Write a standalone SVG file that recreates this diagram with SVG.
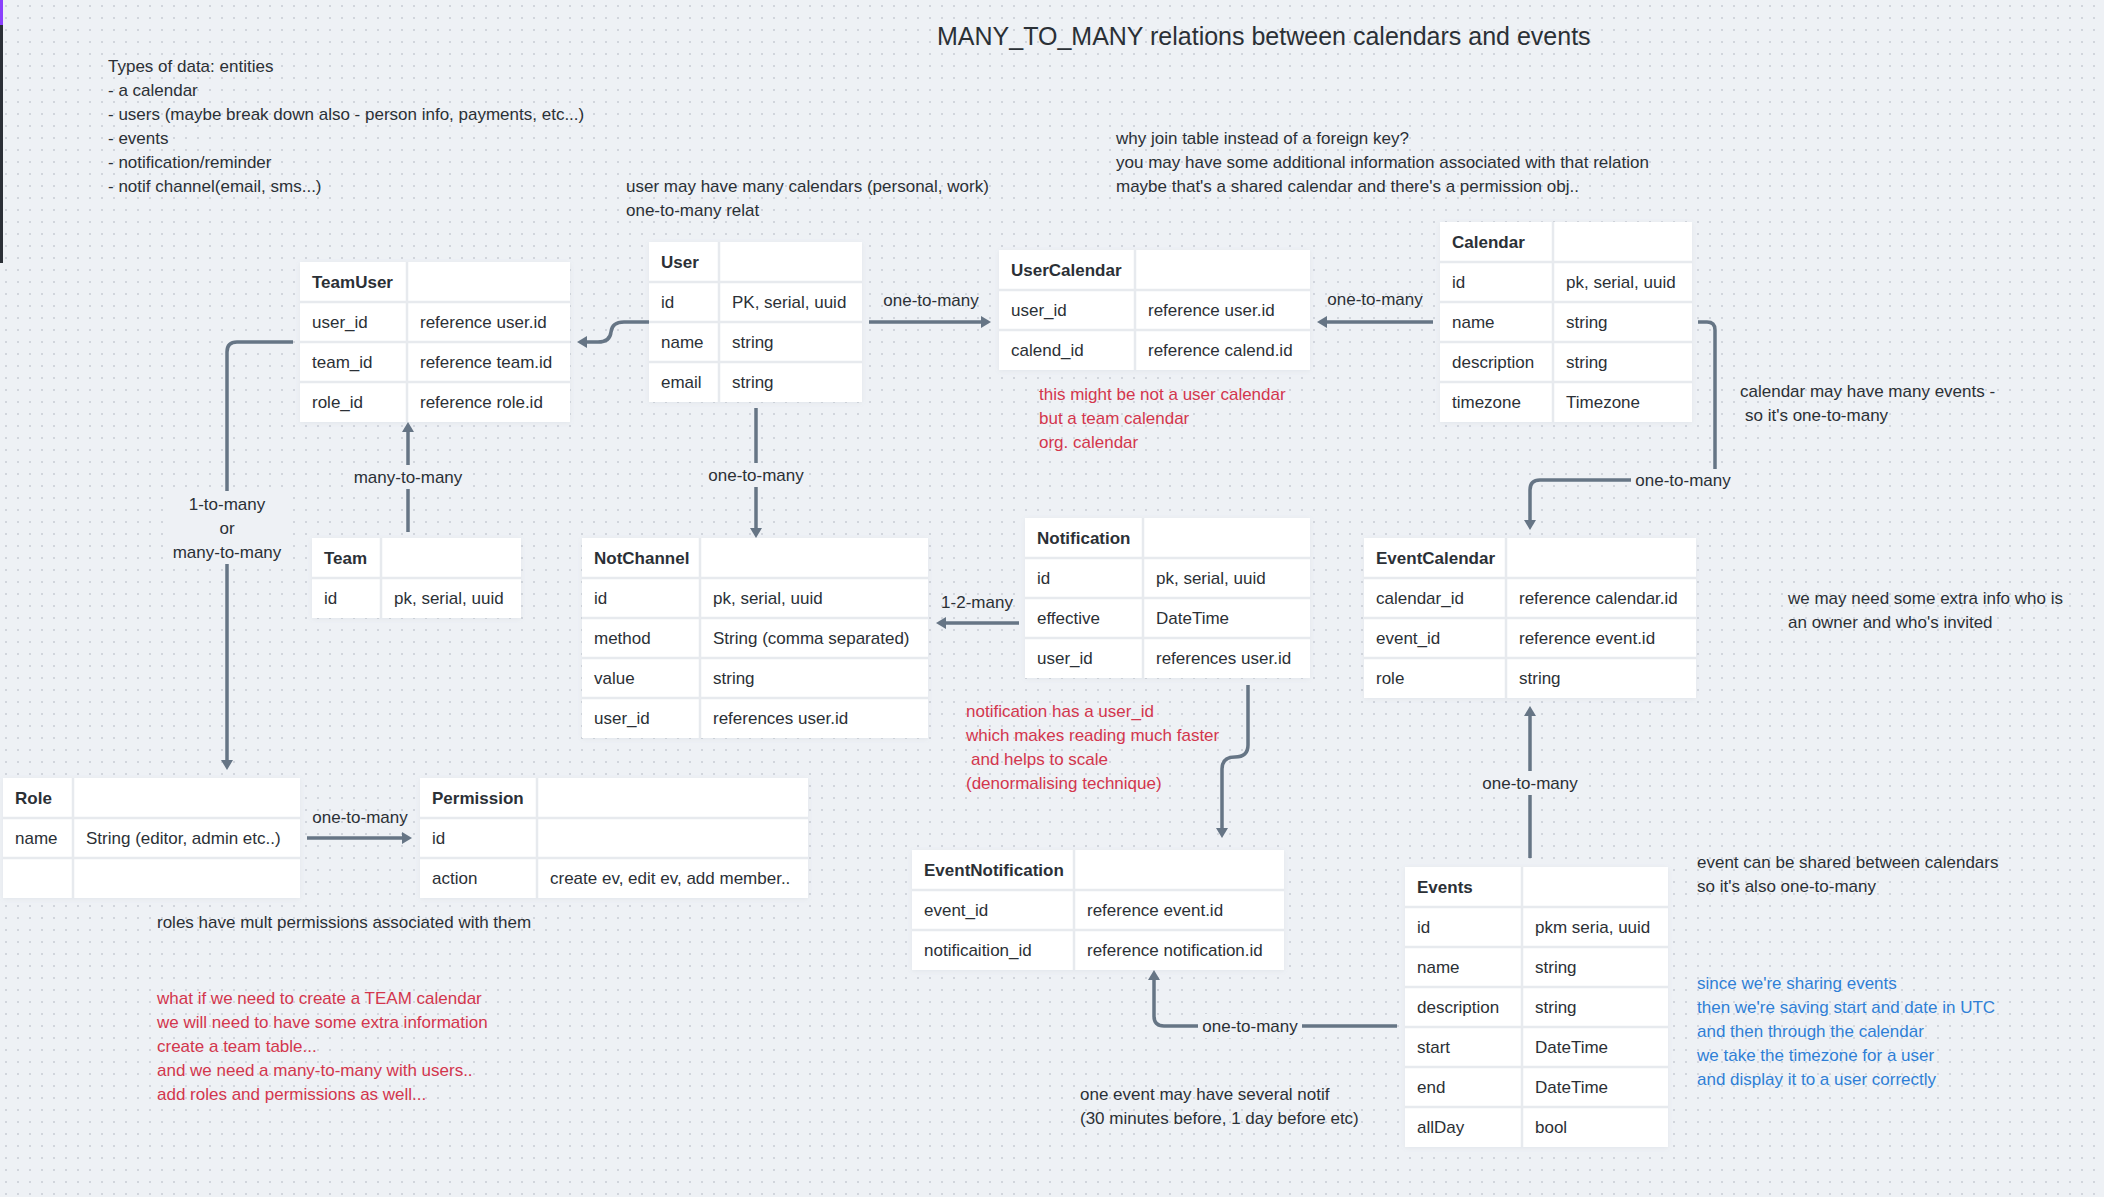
<svg xmlns="http://www.w3.org/2000/svg" width="2104" height="1197" viewBox="0 0 2104 1197">
<style>
text{font-family:"Liberation Sans",Arial,sans-serif;font-size:17px;fill:#2b3036}
.h{font-weight:bold}
.red{fill:#d3364d}
.blue{fill:#2f7fd6}
.title{font-size:25px}
.lbl{text-anchor:middle}
.tb{fill:#fff;filter:url(#sh)}
.sep{stroke:#e7eaee;stroke-width:2.5;fill:none}
.con{fill:none;stroke:#667585;stroke-width:3.5;marker-end:url(#ah)}
.bg{fill:#eef1f5}
</style>
<defs>
<pattern id="dots" width="12" height="12" patternUnits="userSpaceOnUse">
<circle cx="6" cy="6" r="1" fill="#c7ccd4"/>
</pattern>
<marker id="ah" viewBox="0 0 10 12" refX="2" refY="6" markerWidth="10" markerHeight="12" markerUnits="userSpaceOnUse" orient="auto">
<path d="M0,0 L10,6 L0,12 z" fill="#667585"/>
</marker>
<filter id="sh" x="-5%" y="-5%" width="110%" height="115%">
<feDropShadow dx="0" dy="1" stdDeviation="2" flood-color="#8090a0" flood-opacity="0.12"/>
</filter>
</defs>
<rect width="2104" height="1197" fill="#eef1f5"/>
<rect width="2104" height="1197" fill="url(#dots)"/>
<rect x="0" y="0" width="3" height="25" fill="#8a3ffc"/>
<rect x="0" y="25" width="3" height="238" fill="#2b2f36"/>

<text class="title" x="937" y="45">MANY_TO_MANY relations between calendars and events</text>

<g id="notes">
<text x="108" y="72">Types of data: entities</text>
<text x="108" y="96">- a calendar</text>
<text x="108" y="120">- users (maybe break down also - person info, payments, etc...)</text>
<text x="108" y="144">- events</text>
<text x="108" y="168">- notification/reminder</text>
<text x="108" y="192">- notif channel(email, sms...)</text>
<text x="626" y="192">user may have many calendars (personal, work)</text>
<text x="626" y="216">one-to-many relat</text>
<text x="1116" y="144">why join table instead of a foreign key?</text>
<text x="1116" y="168">you may have some additional information associated with that relation</text>
<text x="1116" y="192">maybe that's a shared calendar and there's a permission obj..</text>
<text class="red" x="1039" y="400">this might be not a user calendar</text>
<text class="red" x="1039" y="424">but a team calendar</text>
<text class="red" x="1039" y="448">org. calendar</text>
<text x="1740" y="397">calendar may have many events -</text>
<text x="1745" y="421">so it's one-to-many</text>
<text x="1788" y="604">we may need some extra info who is</text>
<text x="1788" y="628">an owner and who's invited</text>
<text class="red" x="966" y="717">notification has a user_id</text>
<text class="red" x="966" y="741">which makes reading much faster</text>
<text class="red" x="971" y="765">and helps to scale</text>
<text class="red" x="966" y="789">(denormalising technique)</text>
<text x="157" y="928">roles have mult permissions associated with them</text>
<text class="red" x="157" y="1004">what if we need to create a TEAM calendar</text>
<text class="red" x="157" y="1028">we will need to have some extra information</text>
<text class="red" x="157" y="1052">create a team table...</text>
<text class="red" x="157" y="1076">and we need a many-to-many with users..</text>
<text class="red" x="157" y="1100">add roles and permissions as well...</text>
<text x="1080" y="1100">one event may have several notif</text>
<text x="1080" y="1124">(30 minutes before, 1 day before etc)</text>
<text x="1697" y="868">event can be shared between calendars</text>
<text x="1697" y="892">so it's also one-to-many</text>
<text class="blue" x="1697" y="989">since we're sharing events</text>
<text class="blue" x="1697" y="1013">then we're saving start and date in UTC</text>
<text class="blue" x="1697" y="1037">and then through the calendar</text>
<text class="blue" x="1697" y="1061">we take the timezone for a user</text>
<text class="blue" x="1697" y="1085">and display it to a user correctly</text>
</g>

<g id="connectors">
<path class="con" d="M650 322 H624 Q612 322 611 332 Q610 342 598 342 H585"/>
<path class="con" d="M869 322 H983"/>
<text class="lbl" x="931" y="306">one-to-many</text>
<path class="con" d="M1433 322 H1325"/>
<text class="lbl" x="1375" y="305">one-to-many</text>
<path class="con" d="M1698 322 H1707 Q1715 322 1715 330 V472 Q1715 480 1707 480 H1540 Q1530 480 1530 490 V522"/>
<rect class="bg" x="1631" y="469" width="104" height="22"/>
<text class="lbl" x="1683" y="486">one-to-many</text>
<path class="con" d="M756 408 V530"/>
<rect class="bg" x="706" y="463" width="100" height="24"/>
<text class="lbl" x="756" y="481">one-to-many</text>
<path class="con" d="M408 532 V430"/>
<rect class="bg" x="350" y="465" width="116" height="24"/>
<text class="lbl" x="408" y="483">many-to-many</text>
<path class="con" d="M293 342 H237 Q227 342 227 352 V762"/>
<rect class="bg" x="170" y="491" width="114" height="73"/>
<text class="lbl" x="227" y="510">1-to-many</text>
<text class="lbl" x="227" y="534">or</text>
<text class="lbl" x="227" y="558">many-to-many</text>
<path class="con" d="M307 838 H404"/>
<text class="lbl" x="360" y="823">one-to-many</text>
<path class="con" d="M1019 623 H944"/>
<text class="lbl" x="977" y="608">1-2-many</text>
<path class="con" d="M1248 685 V745 Q1248 757 1235 757 Q1222 757 1222 769 V830"/>
<path class="con" d="M1397 1026 H1164 Q1154 1026 1154 1016 V978"/>
<rect class="bg" x="1198" y="1014" width="104" height="24"/>
<text class="lbl" x="1250" y="1032">one-to-many</text>
<path class="con" d="M1530 858 V714"/>
<rect class="bg" x="1478" y="771" width="104" height="24"/>
<text class="lbl" x="1530" y="789">one-to-many</text>
</g>

<g id="TeamUser">
<rect class="tb" x="300" y="262" width="270" height="160"/>
<path class="sep" d="M300 302 H570 M300 342 H570 M300 382 H570 M407 262 V422"/>
<text class="h" x="312" y="288">TeamUser</text>
<text x="312" y="328">user_id</text><text x="420" y="328">reference user.id</text>
<text x="312" y="368">team_id</text><text x="420" y="368">reference team.id</text>
<text x="312" y="408">role_id</text><text x="420" y="408">reference role.id</text>
</g>

<g id="User">
<rect class="tb" x="649" y="242" width="213" height="160"/>
<path class="sep" d="M649 282 H862 M649 322 H862 M649 362 H862 M719 242 V402"/>
<text class="h" x="661" y="268">User</text>
<text x="661" y="308">id</text><text x="732" y="308">PK, serial, uuid</text>
<text x="661" y="348">name</text><text x="732" y="348">string</text>
<text x="661" y="388">email</text><text x="732" y="388">string</text>
</g>

<g id="UserCalendar">
<rect class="tb" x="999" y="250" width="311" height="120"/>
<path class="sep" d="M999 290 H1310 M999 330 H1310 M1135 250 V370"/>
<text class="h" x="1011" y="276">UserCalendar</text>
<text x="1011" y="316">user_id</text><text x="1148" y="316">reference user.id</text>
<text x="1011" y="356">calend_id</text><text x="1148" y="356">reference calend.id</text>
</g>

<g id="Calendar">
<rect class="tb" x="1440" y="222" width="252" height="200"/>
<path class="sep" d="M1440 262 H1692 M1440 302 H1692 M1440 342 H1692 M1440 382 H1692 M1553 222 V422"/>
<text class="h" x="1452" y="248">Calendar</text>
<text x="1452" y="288">id</text><text x="1566" y="288">pk, serial, uuid</text>
<text x="1452" y="328">name</text><text x="1566" y="328">string</text>
<text x="1452" y="368">description</text><text x="1566" y="368">string</text>
<text x="1452" y="408">timezone</text><text x="1566" y="408">Timezone</text>
</g>

<g id="Team">
<rect class="tb" x="312" y="538" width="209" height="80"/>
<path class="sep" d="M312 578 H521 M381 538 V618"/>
<text class="h" x="324" y="564">Team</text>
<text x="324" y="604">id</text><text x="394" y="604">pk, serial, uuid</text>
</g>

<g id="NotChannel">
<rect class="tb" x="582" y="538" width="346" height="200"/>
<path class="sep" d="M582 578 H928 M582 618 H928 M582 658 H928 M582 698 H928 M700 538 V738"/>
<text class="h" x="594" y="564">NotChannel</text>
<text x="594" y="604">id</text><text x="713" y="604">pk, serial, uuid</text>
<text x="594" y="644">method</text><text x="713" y="644">String (comma separated)</text>
<text x="594" y="684">value</text><text x="713" y="684">string</text>
<text x="594" y="724">user_id</text><text x="713" y="724">references user.id</text>
</g>

<g id="Notification">
<rect class="tb" x="1025" y="518" width="285" height="160"/>
<path class="sep" d="M1025 558 H1310 M1025 598 H1310 M1025 638 H1310 M1143 518 V678"/>
<text class="h" x="1037" y="544">Notification</text>
<text x="1037" y="584">id</text><text x="1156" y="584">pk, serial, uuid</text>
<text x="1037" y="624">effective</text><text x="1156" y="624">DateTime</text>
<text x="1037" y="664">user_id</text><text x="1156" y="664">references user.id</text>
</g>

<g id="EventCalendar">
<rect class="tb" x="1364" y="538" width="332" height="160"/>
<path class="sep" d="M1364 578 H1696 M1364 618 H1696 M1364 658 H1696 M1506 538 V698"/>
<text class="h" x="1376" y="564">EventCalendar</text>
<text x="1376" y="604">calendar_id</text><text x="1519" y="604">reference calendar.id</text>
<text x="1376" y="644">event_id</text><text x="1519" y="644">reference event.id</text>
<text x="1376" y="684">role</text><text x="1519" y="684">string</text>
</g>

<g id="Role">
<rect class="tb" x="3" y="778" width="297" height="120"/>
<path class="sep" d="M3 818 H300 M3 858 H300 M73 778 V898"/>
<text class="h" x="15" y="804">Role</text>
<text x="15" y="844">name</text><text x="86" y="844">String (editor, admin etc..)</text>
</g>

<g id="Permission">
<rect class="tb" x="420" y="778" width="388" height="120"/>
<path class="sep" d="M420 818 H808 M420 858 H808 M537 778 V898"/>
<text class="h" x="432" y="804">Permission</text>
<text x="432" y="844">id</text>
<text x="432" y="884">action</text><text x="550" y="884">create ev, edit ev, add member..</text>
</g>

<g id="EventNotification">
<rect class="tb" x="912" y="850" width="372" height="120"/>
<path class="sep" d="M912 890 H1284 M912 930 H1284 M1074 850 V970"/>
<text class="h" x="924" y="876">EventNotification</text>
<text x="924" y="916">event_id</text><text x="1087" y="916">reference event.id</text>
<text x="924" y="956">notificaition_id</text><text x="1087" y="956">reference notification.id</text>
</g>

<g id="Events">
<rect class="tb" x="1405" y="867" width="263" height="280"/>
<path class="sep" d="M1405 907 H1668 M1405 947 H1668 M1405 987 H1668 M1405 1027 H1668 M1405 1067 H1668 M1405 1107 H1668 M1522 867 V1147"/>
<text class="h" x="1417" y="893">Events</text>
<text x="1417" y="933">id</text><text x="1535" y="933">pkm seria, uuid</text>
<text x="1417" y="973">name</text><text x="1535" y="973">string</text>
<text x="1417" y="1013">description</text><text x="1535" y="1013">string</text>
<text x="1417" y="1053">start</text><text x="1535" y="1053">DateTime</text>
<text x="1417" y="1093">end</text><text x="1535" y="1093">DateTime</text>
<text x="1417" y="1133">allDay</text><text x="1535" y="1133">bool</text>
</g>
</svg>
